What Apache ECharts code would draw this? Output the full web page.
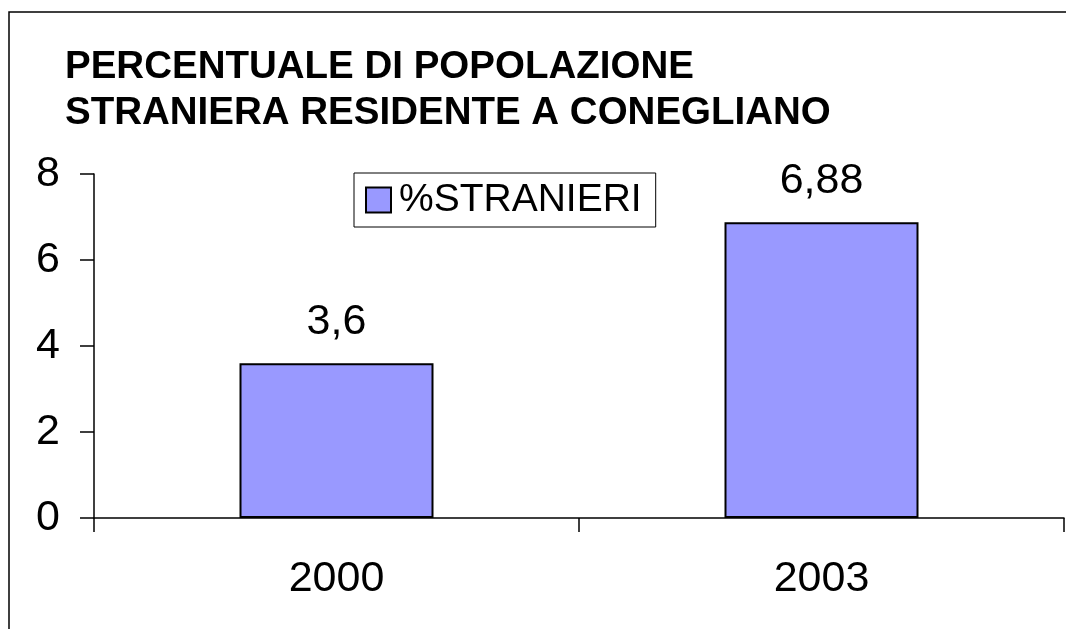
<!DOCTYPE html>
<html>
<head>
<meta charset="utf-8">
<script src="https://cdn.jsdelivr.net/npm/echarts@6/dist/echarts.min.js"></script>
<style>
  html, body { margin: 0; padding: 0; background: #fff; }
  #chart { width: 1066px; height: 629px; }
</style>
</head>
<body>
<div id="chart"></div>
<script>
// dati del grafico
var anni = ['2000', '2003'];
var stranieri = [3.6, 6.88];
var serieNome = '%STRANIERI';
var titolo = 'PERCENTUALE DI POPOLAZIONE\nSTRANIERA RESIDENTE A CONEGLIANO';

var font = '"Liberation Sans", Arial, sans-serif';

var chart = echarts.init(document.getElementById('chart'));

var option = {
  backgroundColor: '#fff',
  animation: false,
  graphic: [
    {
      type: 'polyline',
      shape: { points: [[9, 700], [9, 12], [1100, 12]] },
      style: { fill: null, stroke: '#000', lineWidth: 1.5 },
      silent: true
    }
  ],
  title: {
    text: titolo,
    left: 60,
    top: 39,
    textStyle: {
      fontFamily: font,
      fontSize: 38.5,
      fontWeight: 'bold',
      color: '#000',
      lineHeight: 46
    }
  },
  legend: {
    data: [serieNome],
    left: 354,
    top: 173,
    orient: 'horizontal',
    padding: [7, 14, 7, 11],
    itemWidth: 25,
    itemHeight: 25,
    itemGap: 10,
    icon: 'rect',
    borderColor: '#000',
    borderWidth: 1,
    backgroundColor: '#fff',
    itemStyle: { color: '#9999ff', borderColor: '#000', borderWidth: 2 },
    textStyle: { fontFamily: font, fontSize: 39, lineHeight: 40, color: '#000', padding: [0, 0, 0, 3] }
  },
  grid: {
    left: 94,
    right: 2,
    top: 174,
    bottom: 111,
    containLabel: false
  },
  xAxis: {
    type: 'category',
    data: anni,
    axisLine: { lineStyle: { color: '#000', width: 1.5 } },
    axisTick: { show: true, length: 14, lineStyle: { color: '#000', width: 1.5 } },
    axisLabel: { fontFamily: font, fontSize: 43, color: '#000', margin: 40 }
  },
  yAxis: {
    type: 'value',
    min: 0,
    max: 8,
    interval: 2,
    splitLine: { show: false },
    axisLine: { show: true, lineStyle: { color: '#000', width: 1.5 } },
    axisTick: { show: true, length: 14, lineStyle: { color: '#000', width: 1.5 } },
    axisLabel: { fontFamily: font, fontSize: 43, color: '#000', margin: 34 }
  },
  series: [
    {
      name: serieNome,
      type: 'bar',
      data: stranieri,
      barWidth: '40%',
      itemStyle: { color: '#9999ff', borderColor: '#000', borderWidth: 2 },
      label: {
        show: true,
        position: 'top',
        distance: 20,
        fontFamily: font,
        fontSize: 43,
        color: '#000',
        formatter: function (p) { return String(p.value).replace('.', ','); }
      }
    }
  ]
};

chart.setOption(option);
</script>
</body>
</html>
